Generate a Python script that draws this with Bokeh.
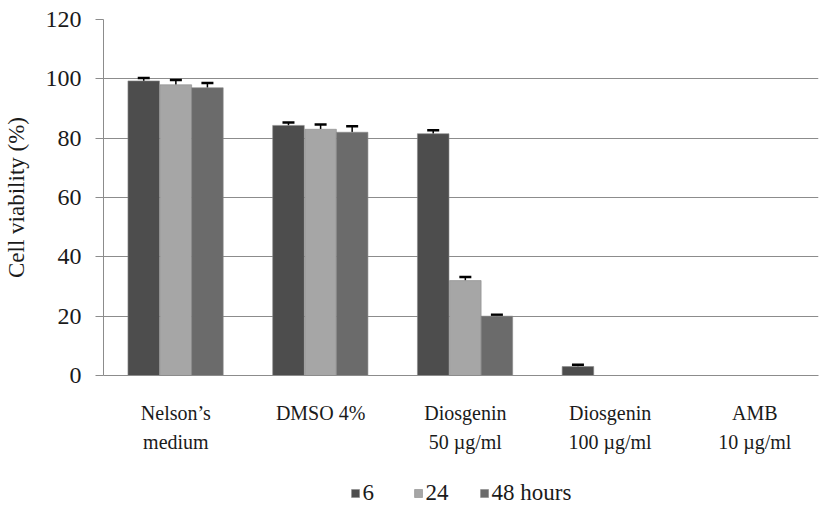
from bokeh.plotting import figure
from bokeh.layouts import column
from bokeh.models import (ColumnDataSource, Range1d, FixedTicker, Legend, LegendItem,
                          Whisker, TeeHead)
from bokeh.embed import file_html
from bokeh.resources import INLINE

categories = ["Nelson\u2019s\nmedium", "DMSO 4%", "Diosgenin\n50 \u00b5g/ml",
              "Diosgenin\n100 \u00b5g/ml", "AMB\n10 \u00b5g/ml"]
series_names = ["6", "24", "48 hours"]
v6 = [99.3, 84.3, 81.5, 3.0, 0.0]
v24 = [98.0, 83.0, 32.0, 0.0, 0.0]
v48 = [97.0, 82.0, 20.0, 0.0, 0.0]
e6 = [1.0, 1.0, 1.2, 0.6, 0.0]
e24 = [1.6, 1.6, 1.2, 0.0, 0.0]
e48 = [1.6, 2.0, 0.5, 0.0, 0.0]
y_ticks = [0, 20, 40, 60, 80, 100, 120]
colors = ["#4d4d4d", "#a6a6a6", "#6b6b6b"]
offsets = [-0.222, 0.0, 0.218]
bar_w = 0.218
x_end = 4.94

FONT = "Liberation Serif"
GRID = "#8c8c8c"
TXT = "#1a1a1a"

p = figure(width=828, height=474, output_backend="svg", toolbar_location=None,
           x_range=Range1d(0, x_end), y_range=Range1d(0, 120))
p.min_border_left = 100
p.min_border_right = 2
p.min_border_top = 19
p.min_border_bottom = 99
p.outline_line_color = None
p.background_fill_color = "white"

# legend strip below the chart (its y range lies above all bars, so only the legend shows)
lg = figure(width=828, height=38, output_backend="svg", toolbar_location=None,
            x_range=Range1d(0, x_end), y_range=Range1d(1000, 1001))
lg.axis.visible = False
lg.grid.visible = False
lg.outline_line_color = None
lg.min_border = 0
lg.min_border_right = 10

centers = [i + 0.5 for i in range(len(categories))]
lg_renderers = []
for vals, errs, col, off in zip([v6, v24, v48], [e6, e24, e48], colors, offsets):
    xs = [c + off for c in centers]
    src = ColumnDataSource(dict(x=xs, top=vals))
    p.vbar(x="x", top="top", width=bar_w, source=src, fill_color=col,
           line_color="#8a8a8a", line_width=0.6)
    lg_renderers.append(lg.vbar(x="x", top="top", width=bar_w, source=src, fill_color=col,
                                line_color="#8a8a8a", line_width=0.6))
    ex = [x for x, e in zip(xs, errs) if e > 0]
    elo = [v for v, e in zip(vals, errs) if e > 0]
    ehi = [v + e for v, e in zip(vals, errs) if e > 0]
    esrc = ColumnDataSource(dict(x=ex, lo=elo, hi=ehi))
    w = Whisker(base="x", lower="lo", upper="hi", source=esrc, dimension="height",
                line_color="black", line_width=1.5,
                upper_head=TeeHead(size=12, line_color="black", line_width=2.5),
                lower_head=None)
    p.add_layout(w)

# y axis
p.yaxis.ticker = FixedTicker(ticks=y_ticks)
p.yaxis.axis_label = "Cell viability (%)"
p.yaxis.axis_label_text_font = FONT
p.yaxis.axis_label_text_font_style = "normal"
p.yaxis.axis_label_text_font_size = "23px"
p.yaxis.axis_label_text_color = TXT
p.yaxis.axis_label_standoff = 14
p.yaxis.major_label_text_font = FONT
p.yaxis.major_label_text_font_size = "24px"
p.yaxis.major_label_text_color = TXT
p.yaxis.major_label_standoff = 14
p.yaxis.axis_line_color = GRID
p.yaxis.major_tick_line_color = GRID
p.yaxis.major_tick_out = 8
p.yaxis.major_tick_in = 0
p.yaxis.minor_tick_line_color = None

# x axis
p.xaxis.ticker = FixedTicker(ticks=centers)
p.xaxis.major_label_overrides = {c: lab for c, lab in zip(centers, categories)}
p.xaxis.major_label_text_font = FONT
p.xaxis.major_label_text_font_size = "20px"
p.xaxis.major_label_text_color = TXT
p.xaxis.major_label_text_line_height = 1.35
p.xaxis.major_label_standoff = 20
p.xaxis.axis_line_color = GRID
p.xaxis.major_tick_line_color = None
p.xaxis.minor_tick_line_color = None

p.xgrid.grid_line_color = None
p.ygrid.grid_line_color = GRID
p.ygrid.grid_line_width = 1

legend = Legend(items=[LegendItem(label=n, renderers=[r]) for n, r in zip(series_names, lg_renderers)],
                orientation="horizontal", location="center",
                label_text_font=FONT, label_text_font_size="23px", label_text_color=TXT,
                glyph_width=10, glyph_height=10, spacing=30, label_standoff=3,
                border_line_color=None, background_fill_alpha=0, margin=0, padding=0)
lg.add_layout(legend)

layout = column(p, lg, spacing=0)
open("out.html", "w").write(file_html(layout, INLINE))
